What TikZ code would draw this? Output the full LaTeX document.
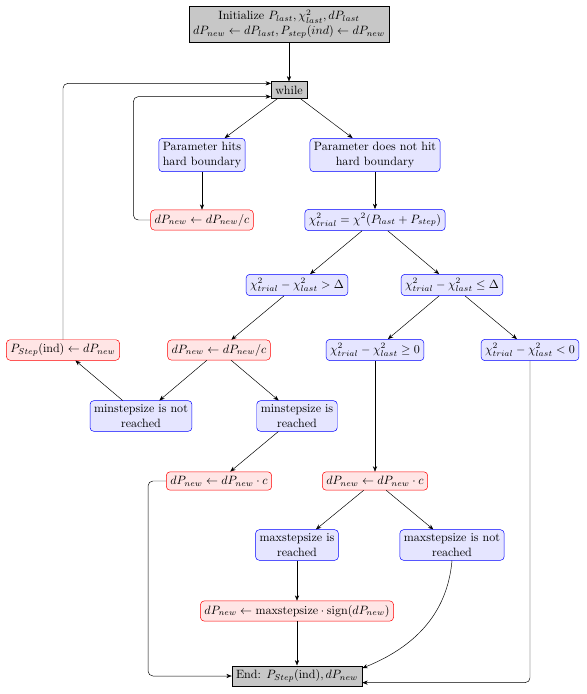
\documentclass[tikz,border=0pt]{standalone}
\usetikzlibrary{arrows.meta}
\begin{document}
\begin{tikzpicture}[x=0.83pt,y=-0.83pt,
  blu/.style={draw=blue,fill=blue!10,rounded corners=3pt,align=center},
  rd/.style={draw=red,fill=red!10,rounded corners=3pt,align=center},
  gr/.style={draw=black,fill=black!22,align=center},
  arr/.style={-{Stealth[length=4.5pt,width=3.5pt]}},
  rarr/.style={arr,rounded corners=4pt}]
\useasboundingbox (0,0) rectangle (587,694);
\node[gr] (init) at (289,24) {Initialize $P_{last}, \chi^2_{last}, dP_{last}$\\ $dP_{new} \leftarrow dP_{last}, P_{step}(ind) \leftarrow dP_{new}$};
\node[gr] (while) at (289,90) {while};
\node[blu] (hits) at (202,155) {Parameter hits\\hard boundary};
\node[blu] (nothit) at (375,155) {Parameter does not hit\\hard boundary};
\node[rd] (div1) at (202,220) {$dP_{new} \leftarrow dP_{new}/c$};
\node[blu] (chi) at (375,220) {$\chi^2_{trial} = \chi^2(P_{last} + P_{step})$};
\node[blu] (gtD) at (297,285) {$\chi^2_{trial} - \chi^2_{last} > \Delta$};
\node[blu] (leD) at (452,285) {$\chi^2_{trial} - \chi^2_{last} \leq \Delta$};
\node[rd] (pstep) at (63,350) {$P_{Step}(\mathrm{ind}) \leftarrow dP_{new}$};
\node[rd] (div2) at (219,350) {$dP_{new} \leftarrow dP_{new}/c$};
\node[blu] (ge0) at (375,350) {$\chi^2_{trial} - \chi^2_{last} \geq 0$};
\node[blu] (lt0) at (530,350) {$\chi^2_{trial} - \chi^2_{last} < 0$};
\node[blu] (minnot) at (141,416) {minstepsize is not\\reached};
\node[blu] (minyes) at (297,416) {minstepsize is\\reached};
\node[rd] (mulL) at (219,481) {$dP_{new} \leftarrow dP_{new} \cdot c$};
\node[rd] (mulR) at (375,481) {$dP_{new} \leftarrow dP_{new} \cdot c$};
\node[blu] (maxyes) at (297,545) {maxstepsize is\\reached};
\node[blu] (maxnot) at (452,545) {maxstepsize is not\\reached};
\node[rd] (sgn) at (297,611) {$dP_{new} \leftarrow \mathrm{maxstepsize} \cdot \mathrm{sign}(dP_{new})$};
\node[gr] (end) at (297,676) {End: $P_{Step}(\mathrm{ind}), dP_{new}$};

\draw[arr] (init) -- (while);
\draw[arr] (while) -- (hits);
\draw[arr] (while) -- (nothit);
\draw[arr] (hits) -- (div1);
\draw[rarr] (div1.west) -- ++(-17,0) |- ([yshift=-5.5pt]while.west);
\draw[rarr] (pstep.north) |- ([yshift=5.5pt]while.west);
\draw[arr] (nothit) -- (chi);
\draw[arr] (chi) -- (gtD);
\draw[arr] (chi) -- (leD);
\draw[arr] (gtD) -- (div2);
\draw[arr] (leD) -- (ge0);
\draw[arr] (leD) -- (lt0);
\draw[arr] (div2) -- (minnot);
\draw[arr] (div2) -- (minyes);
\draw[arr] (minnot) -- (pstep);
\draw[arr] (minyes) -- (mulL);
\draw[arr] (ge0) -- (mulR);
\draw[rarr] (mulL.west) -- ++(-18,0) |- (end.west);
\draw[arr] (mulR) -- (maxyes);
\draw[arr] (mulR) -- (maxnot);
\draw[arr] (maxyes) -- (sgn);
\draw[arr] (sgn) -- (end);
\draw[arr] (maxnot.south) to[out=-95,in=22] ([yshift=6.5pt]end.east);
\draw[rarr] (lt0.south) |- ([yshift=-5.5pt]end.east);
\end{tikzpicture}
\end{document}
